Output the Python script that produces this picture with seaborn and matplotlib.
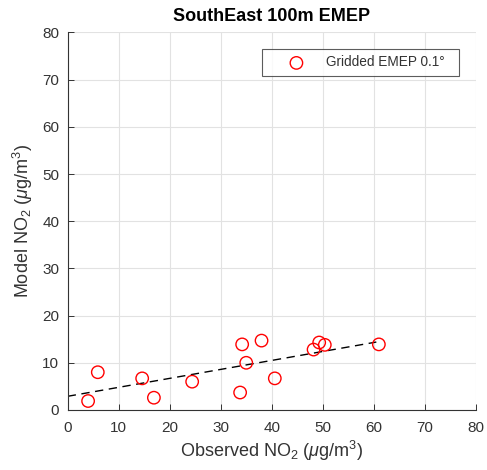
import numpy as np
import pandas as pd
import matplotlib
matplotlib.use("Agg")
import matplotlib.pyplot as plt
import seaborn as sns

# Data
observed = [4.0, 5.9, 14.6, 16.9, 24.4, 33.8, 34.2, 35.0, 38.0, 40.6, 48.2, 49.3, 50.4, 61.0]
model = [1.9, 8.0, 6.7, 2.6, 6.0, 3.7, 13.9, 10.0, 14.7, 6.7, 12.8, 14.3, 13.8, 13.9]
fit_intercept = 2.9
fit_slope = 0.19
fit_x_range = [0.0, 60.5]
x_ticks = [0, 10, 20, 30, 40, 50, 60, 70, 80]
y_ticks = [0, 10, 20, 30, 40, 50, 60, 70, 80]
title = "SouthEast 100m EMEP"
legend_label = "Gridded EMEP 0.1°\u2002"

sns.set_style("white")
plt.rcParams["font.family"] = ["Liberation Sans", "DejaVu Sans"]
plt.rcParams["mathtext.fontset"] = "custom"
plt.rcParams["mathtext.rm"] = "Liberation Sans"
plt.rcParams["mathtext.it"] = "Liberation Sans:italic"

df = pd.DataFrame({"obs": observed, "mod": model})
fit_df = pd.DataFrame({"x": fit_x_range,
                       "y": [fit_intercept + fit_slope * v for v in fit_x_range]})

fig = plt.figure(figsize=(4.87, 4.70), dpi=100)
ax = fig.add_axes([0.139, 0.1277, 0.838, 0.8033])

ax.grid(True, color="#e2e2e2", linewidth=0.8)
ax.set_axisbelow(True)

sns.lineplot(data=fit_df, x="x", y="y", ax=ax, color="black",
             linewidth=1.0, dashes=False, linestyle=(0, (6, 4)), legend=False)
sns.scatterplot(data=df, x="obs", y="mod", ax=ax, marker="o",
                s=80, facecolor="none", edgecolor="red", linewidth=1.0,
                label=legend_label, zorder=3)

ax.set_xlim(0, 80)
ax.set_ylim(0, 80)
ax.set_xticks(x_ticks)
ax.set_yticks(y_ticks)
ax.tick_params(direction="in", length=4, width=0.7, colors="#333333",
               labelsize=11, pad=6, top=False, right=False, bottom=True, left=True)
ax.tick_params(axis="x", pad=8)
for lbl in ax.get_xticklabels() + ax.get_yticklabels():
    lbl.set_color("#333333")
for name, sp in ax.spines.items():
    sp.set_color("#333333")
    sp.set_linewidth(0.8)
ax.spines["top"].set_visible(False)
ax.spines["right"].set_visible(False)

ax.set_xlabel(r"Observed NO$_2$ ($\mathit{\mu}$g/m$^3$)", fontsize=13, color="#333333", labelpad=3)
ax.set_ylabel(r"Model NO$_2$ ($\mathit{\mu}$g/m$^3$)", fontsize=13, color="#333333", labelpad=5)
ax.set_title(title, fontsize=13, fontweight="bold", color="black", pad=8)

leg = ax.legend(loc="upper right", fontsize=9.8, frameon=True, fancybox=False,
                edgecolor="#333333", borderpad=0.5, handletextpad=0.2,
                handlelength=4.0, bbox_to_anchor=(0.975, 0.975))
leg.get_frame().set_linewidth(0.8)
for t in leg.get_texts():
    t.set_color("#333333")

fig.savefig("out.png", dpi=100)
